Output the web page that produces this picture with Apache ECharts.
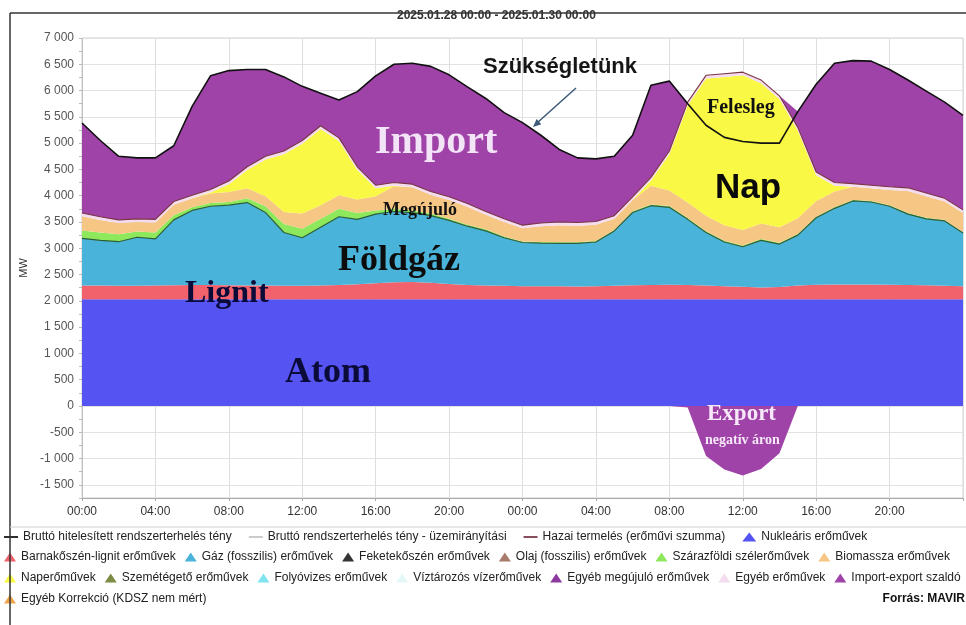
<!DOCTYPE html>
<html><head><meta charset="utf-8">
<script src="https://cdn.jsdelivr.net/npm/echarts@6/dist/echarts.min.js"></script>
<style>html,body{margin:0;padding:0;background:#fff}#c{width:966px;height:625px}</style>
</head><body><div id="c"></div>
<script>
// ---- data (hours from 2025.01.28 00:00) ----
const hours = [0,1,2,3,4,5,6,7,8,9,10,11,12,13,14,15,16,17,18,19,20,21,22,23,24,25,26,27,28,29,30,31,32,33,34,35,36,37,38,39,40,41,42,43,44,45,46,47,48];
const demand = [5383,5050,4750,4720,4720,4950,5700,6280,6380,6400,6400,6260,6080,5950,5820,5980,6280,6500,6520,6460,6300,6070,5850,5580,5390,5150,4880,4720,4700,4750,5150,6100,6180,5750,5340,5110,5030,5000,5000,5600,6120,6520,6570,6560,6400,6200,5990,5780,5530];
const nuclear = [2030,2030,2030,2030,2030,2030,2030,2030,2030,2030,2030,2030,2030,2030,2030,2030,2030,2030,2030,2030,2030,2030,2030,2030,2030,2030,2030,2030,2030,2030,2030,2030,2030,2030,2030,2030,2030,2030,2030,2030,2030,2030,2030,2030,2030,2030,2030,2030,2030];
const lignite = [260,260,255,255,260,265,270,270,265,260,260,255,255,260,270,285,305,325,330,315,290,270,260,255,250,250,250,245,250,255,265,270,275,270,260,250,240,225,235,260,275,280,280,280,275,270,265,255,250];
const gas = [900,860,840,925,890,1245,1420,1500,1525,1580,1390,1015,915,1110,1300,1235,1315,1345,1320,1275,1210,1120,1040,915,830,820,815,820,840,1045,1385,1510,1475,1250,1010,840,760,895,815,960,1275,1450,1590,1570,1495,1350,1265,1235,1010];
const wind = [150,150,140,110,120,90,60,60,60,80,120,160,170,160,150,120,70,50,40,40,30,30,30,25,20,20,20,20,20,20,25,25,25,25,25,25,25,25,25,20,20,20,20,20,20,20,20,20,20];
const biomass = [270,240,215,180,190,200,170,180,190,190,190,230,290,260,260,260,270,430,440,360,360,340,280,275,250,300,325,315,310,210,215,355,295,295,295,295,295,295,295,300,300,300,250,240,290,420,410,350,360];
const solar = [0,0,0,0,0,0,0,20,150,350,700,1100,1330,1450,1030,560,150,10,0,0,0,0,0,0,0,0,0,0,0,0,0,100,690,1850,2610,2820,2940,2670,2440,1670,490,110,0,0,0,0,0,0,0];
const other = [60,60,60,60,60,60,60,60,60,60,60,60,60,60,60,60,60,60,60,60,60,60,60,60,60,60,60,60,60,60,60,60,60,60,60,60,60,60,60,60,60,60,60,60,60,60,60,60,60];
const xTickLabels = ['00:00','04:00','08:00','12:00','16:00','20:00','00:00','04:00','08:00','12:00','16:00','20:00'];

const legendRow1 = ['Bruttó hitelesített rendszerterhelés tény','Bruttó rendszerterhelés tény - üzemirányítási','Hazai termelés (erőművi szumma)','Nukleáris erőművek'];
const legendRow2 = ['Barnakőszén-lignit erőművek','Gáz (fosszilis) erőművek','Feketekőszén erőművek','Olaj (fosszilis) erőművek','Szárazföldi szélerőművek','Biomassza erőművek'];
const legendRow3 = ['Naperőművek','Szemétégető erőművek','Folyóvizes erőművek','Víztározós vízerőművek','Egyéb megújuló erőművek','Egyéb erőművek','Import-export szaldó'];
const legendRow4 = ['Egyéb Korrekció (KDSZ nem mért)'];
const lineNames = ['Bruttó hitelesített rendszerterhelés tény','Bruttó rendszerterhelés tény - üzemirányítási','Hazai termelés (erőművi szumma)'];

// ---- derived tables ----
const production = hours.map((h,i)=>nuclear[i]+lignite[i]+gas[i]+wind[i]+biomass[i]+solar[i]+other[i]);
const saldo = hours.map((h,i)=>demand[i]-production[i]);

const SANS = '"Liberation Sans", Arial, sans-serif';
const SERIF = '"Liberation Serif", "Times New Roman", serif';

function area(name, arr, color, extra) {
  const s = {
    name, type:'line', data: arr ? arr.slice() : [],
    symbol:'none', showSymbol:false, color,
    itemStyle:{color}, lineStyle:{width:0, color},
    areaStyle:{color, opacity:1}, emphasis:{disabled:true}, z:2
  };
  if (arr) s.stack = 'total';
  return Object.assign(s, extra||{});
}

const exportSeries = area('Import-export szaldó', saldo.map(v=>Math.min(0,v)), '#a043a8');
delete exportSeries.stack;

const series = [
  area('Nukleáris erőművek', nuclear, '#5553f2'),
  area('Barnakőszén-lignit erőművek', lignite, '#f2626c'),
  area('Gáz (fosszilis) erőművek', gas, '#49b3d9', {lineStyle:{width:1.2, color:'#2c5e3a'}}),
  area('Szárazföldi szélerőművek', wind, '#8ee85c'),
  area('Biomassza erőművek', biomass, '#f6c684'),
  area('Naperőművek', solar, '#f8f845'),
  area('Egyéb erőművek', other, '#f3dcef'),
  area('Import-export szaldó', saldo.map(v=>Math.max(0,v)), '#a043a8'),
  exportSeries,
  area('Feketekőszén erőművek', null, '#333333'),
  area('Olaj (fosszilis) erőművek', null, '#a87a6a'),
  area('Szemétégető erőművek', null, '#7d8c45'),
  area('Folyóvizes erőművek', null, '#7fe3f0'),
  area('Víztározós vízerőművek', null, '#e3f7f7'),
  area('Egyéb megújuló erőművek', null, '#8c3aa0'),
  area('Egyéb Korrekció (KDSZ nem mért)', null, '#f0a54a'),
  {name:'Bruttó hitelesített rendszerterhelés tény', type:'line', data:demand.slice(), symbol:'none', color:'#111',
   itemStyle:{color:'#111'}, lineStyle:{width:1.6, color:'#111'}, z:10, emphasis:{disabled:true}},
  {name:'Bruttó rendszerterhelés tény - üzemirányítási', type:'line', data:[], symbol:'none', color:'#c4c4c4',
   itemStyle:{color:'#c4c4c4'}, lineStyle:{width:1, color:'#c4c4c4'}},
  {name:'Hazai termelés (erőművi szumma)', type:'line', data:production, symbol:'none', color:'#7a3444',
   itemStyle:{color:'#7a3444'}, lineStyle:{width:1.1, color:'#7a3444'}, z:9, emphasis:{disabled:true}}
];

function legendRow(names, top, gap, iw) {
  return {
    top, left:4, width:962, padding:0, orient:'horizontal', itemWidth:iw, itemHeight:9, itemGap:gap,
    selectedMode:false,
    textStyle:{fontSize:12, color:'#222', fontFamily:SANS},
    data: names.map(n => lineNames.includes(n)
      ? {name:n, icon:'path://M0,0H16V2H0Z'}
      : {name:n, icon:'triangle'})
  };
}

function fmtNum(v) {
  const s = Math.abs(v).toString();
  const t = s.length > 3 ? s.slice(0, -3) + ' ' + s.slice(-3) : s;
  return (v < 0 ? '-' : '') + t;
}

function txt(text, x, y, font, fill, align) {
  return {type:'text', z:100, silent:true,
    style:{text, x, y, font, fill, textAlign: align||'left', textVerticalAlign:'middle'}};
}

const option = {
  animation:false,
  backgroundColor:'#fff',
  title:{text:'2025.01.28 00:00 - 2025.01.30 00:00', left:397, top:10, padding:0,
    textStyle:{fontSize:12, fontWeight:'bold', color:'#333', fontFamily:SANS}},
  grid:{left:82, right:3, top:38, bottom:127, show:true, borderColor:'#cfcfcf', borderWidth:1, containLabel:false},
  xAxis:{type:'category', data:hours, boundaryGap:false,
    axisLine:{show:true, onZero:false, lineStyle:{color:'#aaa'}},
    axisTick:{show:true, length:3, interval:3, lineStyle:{color:'#aaa'}},
    axisLabel:{color:'#333', fontSize:12, fontFamily:SANS, margin:8, interval:3,
      formatter: (v, idx) => (idx < 48 ? xTickLabels[Math.round(idx/4)] : '')},
    splitLine:{show:true, interval:3, lineStyle:{color:'#dedede'}}},
  yAxis:{type:'value', min:-1750, max:7000, interval:250,
    name:'MW', nameLocation:'middle', nameGap:41, nameRotate:90,
    nameTextStyle:{fontSize:11, color:'#333', fontFamily:SANS},
    axisLine:{show:true, lineStyle:{color:'#bbb', type:'dotted'}},
    axisTick:{show:true, length:3, lineStyle:{color:'#bbb'}},
    axisLabel:{color:'#555', fontSize:12, fontFamily:SANS, margin:8,
      formatter: v => (v % 500 === 0 ? fmtNum(v) : '')},
    splitLine:{show:true, lineStyle:{color:['rgba(0,0,0,0)','#e2e2e2']}}},
  legend:[legendRow(legendRow1,531,17,14), legendRow(legendRow2,551,9,12), legendRow(legendRow3,572,9,12), legendRow(legendRow4,593,9,12)],
  series,
  graphic:[
    {type:'line', z:50, silent:true, shape:{x1:10,y1:13,x2:966,y2:13}, style:{stroke:'#333', lineWidth:1.5}},
    {type:'line', z:50, silent:true, shape:{x1:10,y1:13,x2:10,y2:625}, style:{stroke:'#333', lineWidth:1.5}},
    {type:'line', z:50, silent:true, shape:{x1:10,y1:527,x2:966,y2:527}, style:{stroke:'#cfcfcf', lineWidth:1}},
    txt('Szükségletünk', 483, 67, 'bold 22px ' + SANS, '#151515'),
    {type:'line', z:100, silent:true, shape:{x1:576,y1:88,x2:537,y2:123}, style:{stroke:'#3d5a78', lineWidth:1.5}},
    {type:'polygon', z:100, silent:true, shape:{points:[[533,127],[541.3,124.2],[536.6,119.0]]}, style:{fill:'#3d5a78'}},
    txt('Import', 375, 143, 'bold 40px ' + SERIF, '#f3e3f7'),
    txt('Felesleg', 707, 108, 'bold 20px ' + SERIF, '#111'),
    txt('Nap', 715, 188, 'bold 35px ' + SANS, '#0a0a0a'),
    txt('Megújuló', 383, 210, 'bold 18px ' + SERIF, '#111'),
    txt('Földgáz', 338, 261, 'bold 36px ' + SERIF, '#0c0c0c'),
    txt('Lignit', 185, 294, 'bold 32px ' + SERIF, '#0b0b3a'),
    txt('Atom', 285, 373, 'bold 36px ' + SERIF, '#0b0b3a'),
    txt('Export', 707, 414, 'bold 23px ' + SERIF, '#f6e8f8'),
    txt('negatív áron', 705, 440, 'bold 14px ' + SERIF, '#f6e8f8'),
    txt('Forrás: MAVIR', 965, 599, 'bold 12px ' + SANS, '#111', 'right')
  ]
};

const chart = echarts.init(document.getElementById('c'), null, {renderer:'canvas'});
chart.setOption(option);
</script>
</body></html>
